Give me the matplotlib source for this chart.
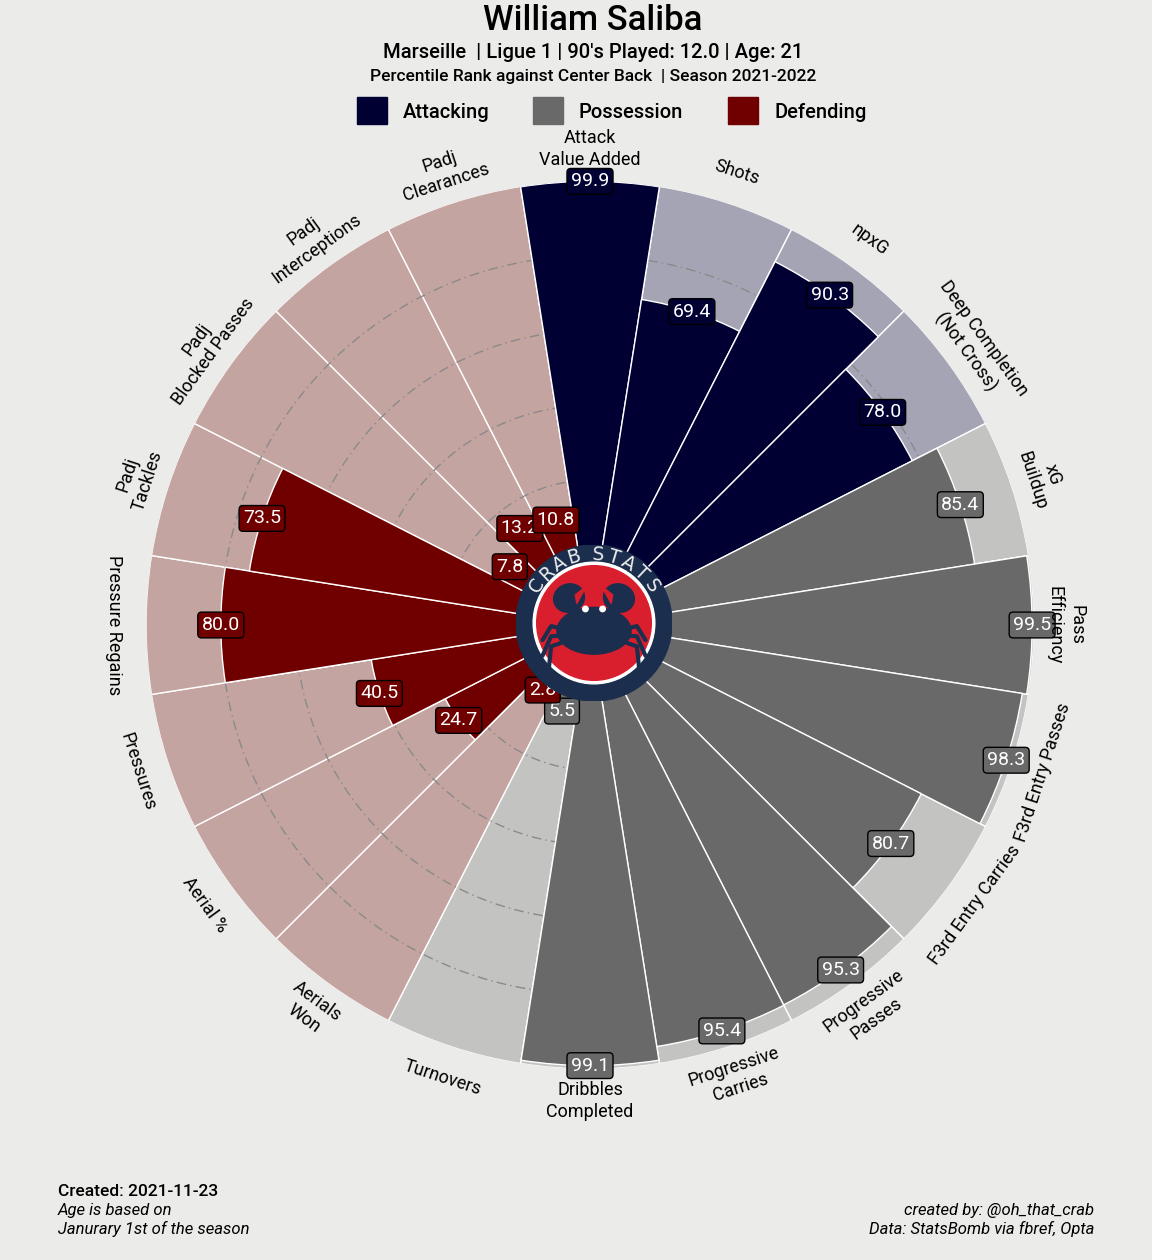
import numpy as np
import matplotlib
matplotlib.use("Agg")
import matplotlib.pyplot as plt
from matplotlib.patches import Rectangle, Circle, Ellipse, Polygon

plt.rcParams['font.family'] = ['Roboto', 'DejaVu Sans']

# ---- data ----
params = ["Attack\nValue Added", "Shots", "npxG", "Deep Completion\n(Not Cross)", "xG\nBuildup",
          "Pass\nEfficiency", "F3rd Entry Passes", "F3rd Entry Carries", "Progressive\nPasses",
          "Progressive\nCarries", "Dribbles\nCompleted", "Turnovers", "Aerials\nWon", "Aerial %",
          "Pressures", "Pressure Regains", "Padj\nTackles", "Padj\nBlocked Passes",
          "Padj\nInterceptions", "Padj\nClearances"]
values = [99.9, 69.4, 90.3, 78.0, 85.4,
          99.5, 98.3, 80.7, 95.3,
          95.4, 99.1, 5.5, 2.8, 24.7,
          40.5, 80.0, 73.5, 7.8,
          13.2, 10.8]
groups = ["Attacking"] * 4 + ["Possession"] * 8 + ["Defending"] * 8

group_names = ["Attacking", "Possession", "Defending"]
dark = {"Attacking": "#000033", "Possession": "#696969", "Defending": "#700000"}
light = {"Attacking": "#A5A4B4", "Possession": "#C3C3C1", "Defending": "#C4A4A1"}
BG = "#EBEBE9"

W, H = 1152, 1260
fig = plt.figure(figsize=(W / 100, H / 100), dpi=100, facecolor=BG)

# pie geometry (pixels)
cx, cy, R = 590, 625, 444
hole = 18.7
top = hole + 100

ax = fig.add_axes([(cx - R) / W, (H - cy - R) / H, 2 * R / W, 2 * R / H], projection='polar')
ax.set_facecolor('none')
ax.set_theta_zero_location('N')
ax.set_theta_direction(-1)
ax.set_ylim(0, top)
ax.grid(False)
ax.set_xticks([])
ax.set_yticks([])
ax.spines['polar'].set_visible(False)

n = len(params)
width = 2 * np.pi / n
theta = np.arange(n) * width

ax.bar(theta, [100] * n, width=width, bottom=hole, color=[light[g] for g in groups],
       edgecolor='white', linewidth=1, zorder=1)

# dashed grid rings
tt = np.linspace(0, 2 * np.pi, 400)
for v in [20, 40, 60, 80]:
    ax.plot(tt, [hole + v] * len(tt), color='#8A8A8A', lw=1, ls=(0, (7, 3, 1, 3)), zorder=2)

ax.bar(theta, values, width=width, bottom=hole, color=[dark[g] for g in groups],
       edgecolor='white', linewidth=1, zorder=3)

# value labels
for t, v, g in zip(theta, values, groups):
    ax.text(t, hole + v, f"{v:.1f}", color='white', fontsize=14, ha='center', va='center', zorder=6,
            bbox=dict(boxstyle='round,pad=0.2', fc=dark[g], ec='black', lw=1))

# parameter labels
for t, p in zip(theta, params):
    deg = 90 - np.degrees(t)
    if deg < -180:
        deg += 360
    rot = deg - 90 if deg >= 0 else deg + 90
    ax.text(t, top + 8.5, p, fontsize=13, ha='center', va='center', rotation=rot,
            rotation_mode='anchor', color='black', linespacing=1.25, zorder=6)

# ---- logo ----
ls = 156
lax = fig.add_axes([(594 - ls / 2) / W, (H - 623 - ls / 2) / H, ls / W, ls / H], zorder=10)
lax.set_xlim(-1, 1)
lax.set_ylim(-1, 1)
lax.set_aspect('equal')
lax.axis('off')
navy = "#1B2E4D"
red = "#D91F2D"
lax.add_patch(Circle((0, 0), 1.0, color=navy))
lax.add_patch(Circle((0, 0), 0.78, color='white'))
lax.add_patch(Circle((0, 0), 0.735, color=red))
word = "CRAB STATS"
steps = np.array([0.0 if i == 0 else (0.75 if ' ' in word[i - 1:i + 1] else 1.0)
                  for i in range(len(word))])
pos = np.cumsum(steps)
angs = 147 - (pos - 0) / pos[-1] * 114
for ch, a in zip(word, angs):
    if ch == ' ':
        continue
    r = 0.88
    lax.text(r * np.cos(np.radians(a)), r * np.sin(np.radians(a)), ch, color='#EDEDED',
             fontsize=13.5, ha='center', va='center', rotation=a - 90, family='DejaVu Sans')
# crab
lax.add_patch(Ellipse((0, -0.1), 0.95, 0.6, color=navy))
for s in (-1, 1):
    lax.add_patch(Ellipse((s * 0.32, 0.32), 0.4, 0.36, angle=-s * 20, color=navy))
    lax.add_patch(Polygon([(s * 0.24, 0.36), (s * 0.1, 0.47), (s * 0.22, 0.25)], color=red))
    lax.plot([s * 0.3, s * 0.22], [0.18, 0.02], color=navy, lw=4, solid_capstyle='round')
    for k, (x1, y1) in enumerate([(0.66, -0.22), (0.66, -0.42), (0.58, -0.6)]):
        lax.plot([s * 0.38, s * 0.55, s * x1], [-0.08 - 0.08 * k, -0.04 - 0.13 * k, y1],
                 color=navy, lw=3, solid_capstyle='round')
    lax.add_patch(Circle((s * 0.11, 0.18), 0.035, color='white'))

# ---- titles ----
fig.text(593 / W, 1 - 21 / H, "William Saliba", ha='center', va='center', fontsize=25, weight='medium')
fig.text(593 / W, 1 - 52 / H, "Marseille  | Ligue 1 | 90's Played: 12.0 | Age: 21",
         ha='center', va='center', fontsize=14.5, weight='medium')
fig.text(593 / W, 1 - 77 / H, "Percentile Rank against Center Back  | Season 2021-2022",
         ha='center', va='center', fontsize=12.5, weight='medium')

# legend
for name, x0 in zip(group_names, [357, 533, 728]):
    fig.patches.append(Rectangle((x0 / W, 1 - 124 / H), 30 / W, 27 / H,
                                 transform=fig.transFigure, color=dark[name]))
    fig.text((x0 + 46) / W, 1 - 112 / H, name, ha='left', va='center', fontsize=14.5,
             weight='medium')

# footer
fig.text(58 / W, 1 - 1191 / H, "Created: 2021-11-23", ha='left', va='center', fontsize=12.5,
         weight='medium')
fig.text(58 / W, 1 - 1220 / H, "Age is based on\nJanurary 1st of the season", ha='left',
         va='center', fontsize=12, style='italic', linespacing=1.2)
fig.text(1094 / W, 1 - 1220 / H, "created by: @oh_that_crab\nData: StatsBomb via fbref, Opta",
         ha='right', va='center', fontsize=12, style='italic', linespacing=1.2, multialignment='right')

fig.savefig("out.png", dpi=100, facecolor=BG)
